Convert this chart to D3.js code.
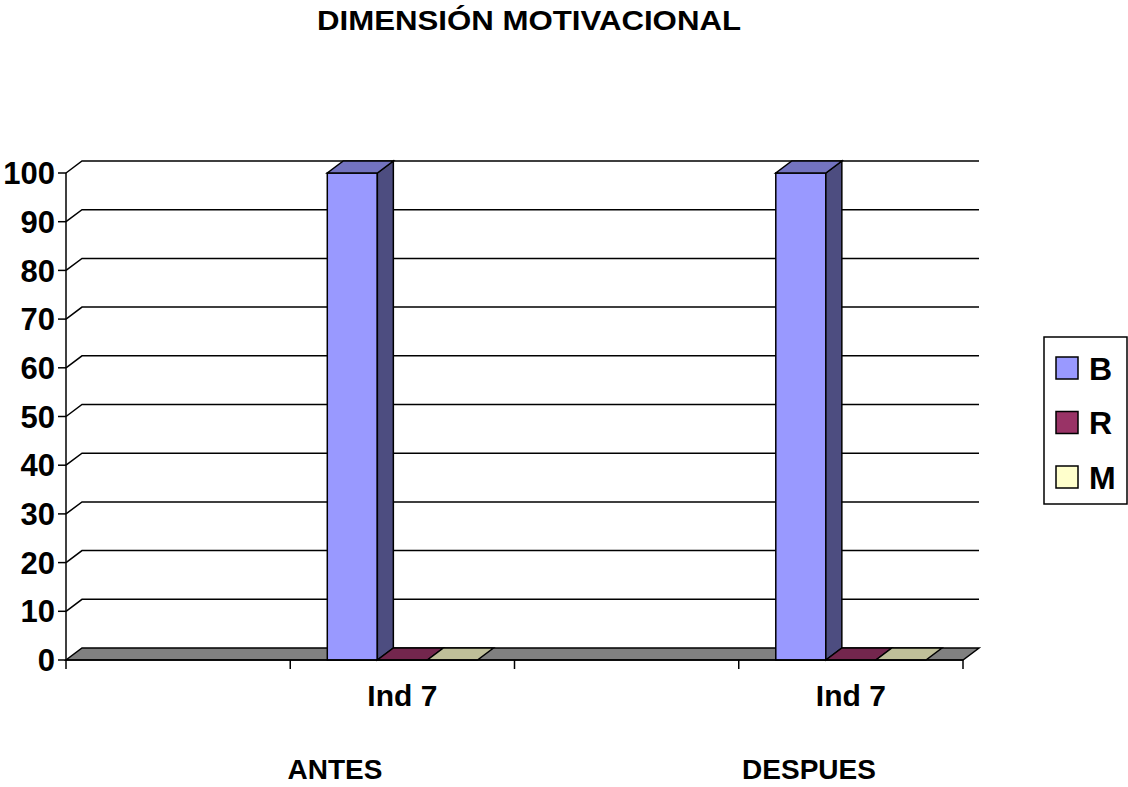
<!DOCTYPE html>
<html>
<head>
<meta charset="utf-8">
<script src="https://cdn.jsdelivr.net/npm/d3@7"></script>
<style>
  body { margin: 0; background: #fff; }
  text { font-family: "Liberation Sans", Arial, sans-serif; font-weight: bold; fill: #000; }
</style>
</head>
<body>
<svg id="chart" width="1128" height="787"></svg>
<script>
// data
const categories = ["", "Ind 7", "", "Ind 7"];
const groupLabels = ["ANTES", "DESPUES"];
const seriesNames = ["B", "R", "M"];
const valuesB = [null, 100, null, 100];
const valuesR = [null, 0, null, 0];
const valuesM = [null, 0, null, 0];
const yTicks = [0, 10, 20, 30, 40, 50, 60, 70, 80, 90, 100];

const colors = { B: "#9999FF", R: "#993366", M: "#FFFFCC" };
const seriesValues = { B: valuesB, R: valuesR, M: valuesM };

const plot = { left: 66, right: 963, bottom: 660, top: 173 };
const DX = 16, DY = -12;   // 3d depth offset

const svg = d3.select("#chart");

const x0 = d3.scaleBand()
    .domain(d3.range(categories.length))
    .range([plot.left, plot.right])
    .padding(0);
const x1 = d3.scaleBand()
    .domain(seriesNames)
    .range([0, x0.bandwidth()])
    .paddingInner(0)
    .paddingOuter(0.74);
const y = d3.scaleLinear().domain([0, 100]).range([plot.bottom, plot.top]);

const shade = (c, k) => {
    const r = d3.rgb(c);
    return d3.rgb(r.r * k, r.g * k, r.b * k).formatHex();
};
const poly = (pts) => pts.map(p => p.join(",")).join(" ");

// title
svg.append("text")
    .attr("x", 529).attr("y", 30)
    .attr("text-anchor", "middle")
    .attr("font-size", 27)
    .attr("textLength", 424)
    .attr("lengthAdjust", "spacingAndGlyphs")
    .text("DIMENSIÓN MOTIVACIONAL");

// back wall gridlines
const grid = svg.append("g");
yTicks.forEach(t => {
    if (t === 0) return;
    grid.append("polyline")
        .attr("points", poly([[plot.left, y(t)], [plot.left + DX, y(t) + DY], [plot.right + DX, y(t) + DY]]))
        .attr("fill", "none").attr("stroke", "#000").attr("stroke-width", 1.5);
});

// floor
svg.append("polygon")
    .attr("points", poly([[plot.left, y(0)], [plot.right, y(0)], [plot.right + DX, y(0) + DY], [plot.left + DX, y(0) + DY]]))
    .attr("fill", "#808080").attr("stroke", "#000").attr("stroke-width", 1.5);

// y axis
const yAxis = svg.append("g");
yAxis.append("line")
    .attr("x1", plot.left).attr("x2", plot.left)
    .attr("y1", y(0)).attr("y2", y(100))
    .attr("stroke", "#000").attr("stroke-width", 1.5);
yTicks.forEach(t => {
    yAxis.append("line")
        .attr("x1", plot.left - 8).attr("x2", plot.left)
        .attr("y1", y(t)).attr("y2", y(t))
        .attr("stroke", "#000").attr("stroke-width", 1.5);
    yAxis.append("text")
        .attr("x", plot.left - 11).attr("y", y(t))
        .attr("dy", "0.36em")
        .attr("text-anchor", "end")
        .attr("font-size", 31)
        .text(t);
});

// bars
const bars = svg.append("g");
categories.forEach((c, i) => {
    seriesNames.forEach(s => {
        const v = seriesValues[s][i];
        if (v === null) return;
        const xl = x0(i) + x1(s), xr = xl + x1.bandwidth();
        const yt = y(v), yb = y(0);
        const col = colors[s];
        if (v > 0) {
            bars.append("polygon")
                .attr("points", poly([[xl, yb], [xr, yb], [xr, yt], [xl, yt]]))
                .attr("fill", col).attr("stroke", "#000").attr("stroke-width", 1.5);
            bars.append("polygon")
                .attr("points", poly([[xr, yb], [xr + DX, yb + DY], [xr + DX, yt + DY], [xr, yt]]))
                .attr("fill", shade(col, 0.5)).attr("stroke", "#000").attr("stroke-width", 1.5);
        }
        bars.append("polygon")
            .attr("points", poly([[xl, yt], [xr, yt], [xr + DX, yt + DY], [xl + DX, yt + DY]]))
            .attr("fill", shade(col, 0.75)).attr("stroke", "#000").attr("stroke-width", 1.5);
    });
});

// x axis
const xAxis = svg.append("g");
xAxis.append("line")
    .attr("x1", plot.left).attr("x2", plot.right)
    .attr("y1", y(0)).attr("y2", y(0))
    .attr("stroke", "#000").attr("stroke-width", 1.5);
d3.range(categories.length + 1).forEach(i => {
    const xx = plot.left + i * x0.bandwidth();
    xAxis.append("line")
        .attr("x1", xx).attr("x2", xx)
        .attr("y1", y(0)).attr("y2", y(0) + 9)
        .attr("stroke", "#000").attr("stroke-width", 1.5);
});
categories.forEach((c, i) => {
    xAxis.append("text")
        .attr("x", x0(i) + x0.bandwidth() / 2)
        .attr("y", 706)
        .attr("text-anchor", "middle")
        .attr("font-size", 30)
        .text(c);
});

// group labels under the axis
const groupX = [335, 809];
groupLabels.forEach((g, i) => {
    svg.append("text")
        .attr("x", groupX[i]).attr("y", 779)
        .attr("text-anchor", "middle")
        .attr("font-size", 28)
        .text(g);
});

// legend
const legend = svg.append("g");
legend.append("rect")
    .attr("x", 1044).attr("y", 337).attr("width", 83).attr("height", 167)
    .attr("fill", "#fff").attr("stroke", "#000").attr("stroke-width", 1.5);
seriesNames.forEach((s, i) => {
    const cy = 368 + i * 54.5;
    legend.append("rect")
        .attr("x", 1056).attr("y", cy - 11).attr("width", 22).attr("height", 22)
        .attr("fill", colors[s]).attr("stroke", "#000").attr("stroke-width", 1.5);
    legend.append("text")
        .attr("x", 1089).attr("y", cy).attr("dy", "0.36em")
        .attr("font-size", 32)
        .text(s);
});
</script>
</body>
</html>
